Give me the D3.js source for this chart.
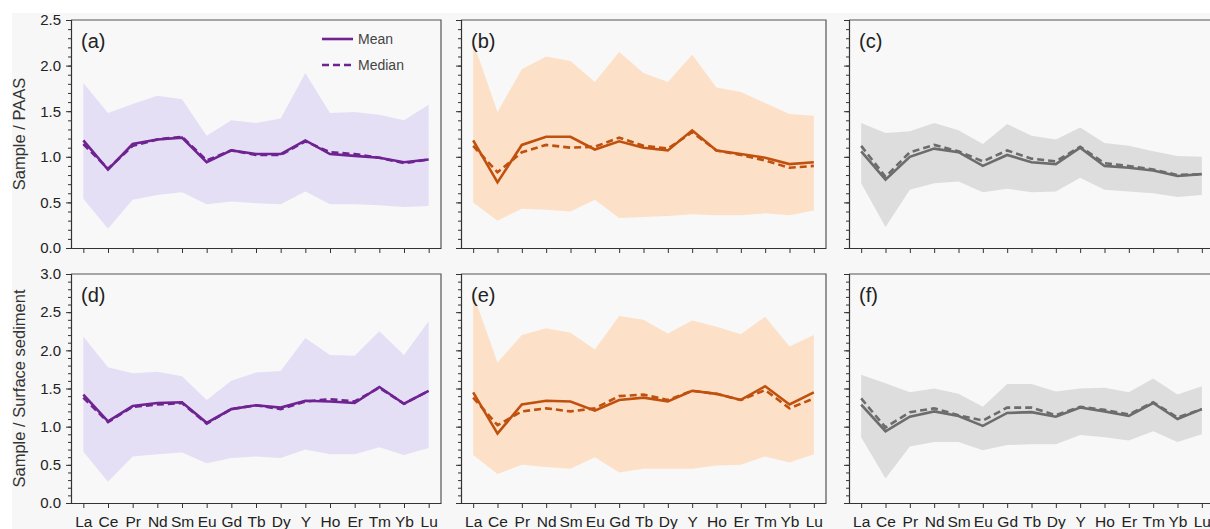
<!DOCTYPE html>
<html><head><meta charset="utf-8">
<script src="https://cdn.jsdelivr.net/npm/d3@7"></script>
<style>body{margin:0;background:#fff;}svg{display:block;font-family:"Liberation Sans",Arial,sans-serif;}</style>
</head><body>
<script>
const elements = ["La","Ce","Pr","Nd","Sm","Eu","Gd","Tb","Dy","Y","Ho","Er","Tm","Yb","Lu"];
const yTicksTop = [0,0.5,1.0,1.5,2.0,2.5];
const yTicksBottom = [0,0.5,1.0,1.5,2.0,2.5,3.0];
const rowTitles = ["Sample / PAAS","Sample / Surface sediment"];
const panelLabels = ["(a)","(b)","(c)","(d)","(e)","(f)"];

// (a)
const aMean  = [1.18,0.86,1.14,1.19,1.21,0.94,1.07,1.03,1.03,1.18,1.03,1.01,0.99,0.94,0.97];
const aMedian= [1.14,0.87,1.12,1.19,1.22,0.96,1.07,1.02,1.02,1.17,1.05,1.03,0.99,0.93,0.97];
const aMax   = [1.81,1.48,1.58,1.67,1.63,1.23,1.40,1.37,1.42,1.92,1.48,1.49,1.46,1.40,1.57];
const aMin   = [0.54,0.21,0.53,0.58,0.61,0.48,0.51,0.49,0.48,0.62,0.48,0.48,0.47,0.45,0.46];
// (b)
const bMean  = [1.18,0.72,1.13,1.22,1.22,1.08,1.17,1.10,1.07,1.29,1.07,1.03,0.99,0.92,0.94];
const bMedian= [1.12,0.83,1.05,1.13,1.10,1.11,1.21,1.12,1.09,1.27,1.07,1.02,0.96,0.88,0.90];
const bMax   = [2.26,1.49,1.96,2.10,2.05,1.82,2.15,1.92,1.82,2.12,1.76,1.71,1.59,1.47,1.45];
const bMin   = [0.50,0.30,0.43,0.42,0.40,0.53,0.33,0.34,0.35,0.37,0.36,0.36,0.38,0.36,0.41];
// (c)
const cMean  = [1.06,0.75,1.00,1.09,1.05,0.90,1.02,0.94,0.92,1.10,0.90,0.88,0.85,0.79,0.81];
const cMedian= [1.12,0.78,1.05,1.13,1.06,0.95,1.07,0.98,0.95,1.11,0.93,0.90,0.86,0.80,0.81];
const cMax   = [1.37,1.26,1.28,1.37,1.29,1.14,1.36,1.23,1.19,1.32,1.15,1.12,1.06,1.01,1.00];
const cMin   = [0.71,0.23,0.64,0.71,0.73,0.61,0.65,0.61,0.62,0.77,0.64,0.62,0.60,0.56,0.58];
// (d)
const dMean  = [1.42,1.07,1.27,1.31,1.32,1.05,1.23,1.28,1.25,1.34,1.33,1.31,1.52,1.30,1.47];
const dMedian= [1.38,1.06,1.26,1.29,1.31,1.04,1.23,1.28,1.23,1.33,1.36,1.33,1.51,1.30,1.47];
const dMax   = [2.18,1.78,1.70,1.72,1.66,1.35,1.60,1.71,1.73,2.16,1.94,1.93,2.25,1.94,2.38];
const dMin   = [0.67,0.28,0.61,0.64,0.66,0.52,0.59,0.61,0.59,0.70,0.64,0.64,0.73,0.63,0.72];
// (e)
const eMean  = [1.45,0.91,1.29,1.34,1.33,1.21,1.35,1.38,1.33,1.47,1.43,1.35,1.53,1.29,1.45];
const eMedian= [1.38,1.02,1.20,1.24,1.20,1.24,1.40,1.42,1.35,1.47,1.43,1.35,1.48,1.24,1.37];
const eMax   = [2.74,1.84,2.20,2.29,2.23,2.01,2.45,2.40,2.22,2.39,2.31,2.21,2.44,2.05,2.20];
const eMin   = [0.63,0.38,0.50,0.47,0.45,0.60,0.40,0.45,0.45,0.45,0.49,0.50,0.61,0.53,0.64];
// (f)
const fMean  = [1.29,0.94,1.13,1.20,1.14,1.01,1.18,1.19,1.13,1.25,1.20,1.14,1.31,1.10,1.23];
const fMedian= [1.37,0.99,1.19,1.24,1.15,1.08,1.25,1.25,1.15,1.26,1.22,1.16,1.32,1.12,1.23];
const fMax   = [1.68,1.57,1.45,1.50,1.43,1.26,1.56,1.56,1.46,1.50,1.51,1.45,1.63,1.42,1.53];
const fMin   = [0.86,0.32,0.74,0.80,0.80,0.69,0.76,0.77,0.77,0.89,0.86,0.82,0.94,0.80,0.90];

const W = 1210, H = 529;
const svg = d3.select("body").append("svg").attr("width", W).attr("height", H);
svg.append("rect").attr("x",12).attr("y",13).attr("width",W-12).attr("height",H-13).attr("fill","#f7f7f7");

const palettes = [
  {line:"#6e2390", fill:"#e5dff6"},
  {line:"#c0500e", fill:"#fde0c8"},
  {line:"#6c6c6c", fill:"#dddddd"}
];
const colX = [[71,441],[461,826],[849,1214]];
const rowY = [[20,248],[274,503]];
const rowMax = [2.5,3.0];
const rowTicks = [yTicksTop, yTicksBottom];
const panels = [
  [aMean,aMedian,aMax,aMin],[bMean,bMedian,bMax,bMin],[cMean,cMedian,cMax,cMin],
  [dMean,dMedian,dMax,dMin],[eMean,eMedian,eMax,eMin],[fMean,fMedian,fMax,fMin]
];
const FONT = '"Liberation Sans",Arial,sans-serif';

panels.forEach((p, i) => {
  const r = Math.floor(i/3), c = i%3;
  const [x0,x1] = colX[c], [y0,y1] = rowY[r];
  const x = d3.scalePoint().domain(elements).range([x0,x1]).padding(0.5);
  const y = d3.scaleLinear().domain([0,rowMax[r]]).range([y1,y0]);
  const pal = palettes[c];
  const g = svg.append("g");
  const clipId = "clip"+i;
  g.append("clipPath").attr("id",clipId).append("rect").attr("x",x0).attr("y",y0).attr("width",x1-x0).attr("height",y1-y0);
  g.append("rect").attr("x",x0).attr("y",y0).attr("width",x1-x0).attr("height",y1-y0).attr("fill","#f8f8f8");
  const [mean, median, mx, mn] = p;
  const idx = d3.range(elements.length);
  const area = d3.area().x(k=>x(elements[k])).y0(k=>y(mn[k])).y1(k=>y(mx[k]));
  const plot = g.append("g").attr("clip-path",`url(#${clipId})`);
  plot.append("path").datum(idx).attr("d",area).attr("fill",pal.fill);
  const line = arr => d3.line().x(k=>x(elements[k])).y(k=>y(arr[k]));
  plot.append("path").datum(idx).attr("d",line(median)).attr("fill","none").attr("stroke",pal.line)
    .attr("stroke-width",2.6).attr("stroke-dasharray","7,4");
  plot.append("path").datum(idx).attr("d",line(mean)).attr("fill","none").attr("stroke",pal.line)
    .attr("stroke-width",2.6);
  g.append("path").attr("d",`M${x0},${y0}H${x1}V${y1}`).attr("fill","none").attr("stroke","#555").attr("stroke-width",1.2);
  const ya = d3.axisLeft(y).tickValues(rowTicks[r]).tickSize(5).tickFormat(c===0 ? d3.format(".1f") : ()=>"");
  const yg = g.append("g").attr("transform",`translate(${x0},0)`).call(ya);
  const minor = d3.range(0, rowMax[r]+0.001, 0.1);
  g.append("g").attr("transform",`translate(${x0},0)`).call(d3.axisLeft(y).tickValues(minor).tickSize(3).tickFormat(""))
    .call(s=>s.select(".domain").remove());
  const xa = d3.axisBottom(x).tickSize(5).tickSizeOuter(0).tickFormat(r===1 ? d=>d : ()=>"");
  const xg = g.append("g").attr("transform",`translate(0,${y1})`).call(xa);
  [yg,xg].forEach(s=>{
    s.select(".domain").attr("stroke","#333").attr("stroke-width",1.2);
    s.selectAll("text").attr("fill","#222").style("font-family",FONT);
  });
  g.selectAll("line").attr("stroke","#333");
  xg.selectAll("text").attr("dy","1.0em").style("font-size","15.5px");
  yg.selectAll("text").attr("dx","-2").style("font-size","15px");
  g.append("text").attr("x",x0+10).attr("y",y0+28).text(panelLabels[i]).style("font-size","20px").attr("fill","#222");
  if (c===0) {
    svg.append("text").attr("transform",`translate(25,${(y0+y1)/2}) rotate(-90)`).attr("text-anchor","middle")
      .style("font-size","16.5px").attr("fill","#333").text(rowTitles[r]);
  }
  if (i===0) {
    const items = [["Mean",null,39],["Median","7,4",65]];
    items.forEach(([t,dash,yy])=>{
      g.append("line").attr("x1",322).attr("x2",353).attr("y1",yy).attr("y2",yy).attr("stroke",pal.line)
        .attr("stroke-width",2.6).attr("stroke-dasharray",dash);
      g.append("text").attr("x",358).attr("y",yy).attr("dy","0.35em").text(t).style("font-size","14px").attr("fill","#444");
    });
  }
});
</script>
</body></html>
